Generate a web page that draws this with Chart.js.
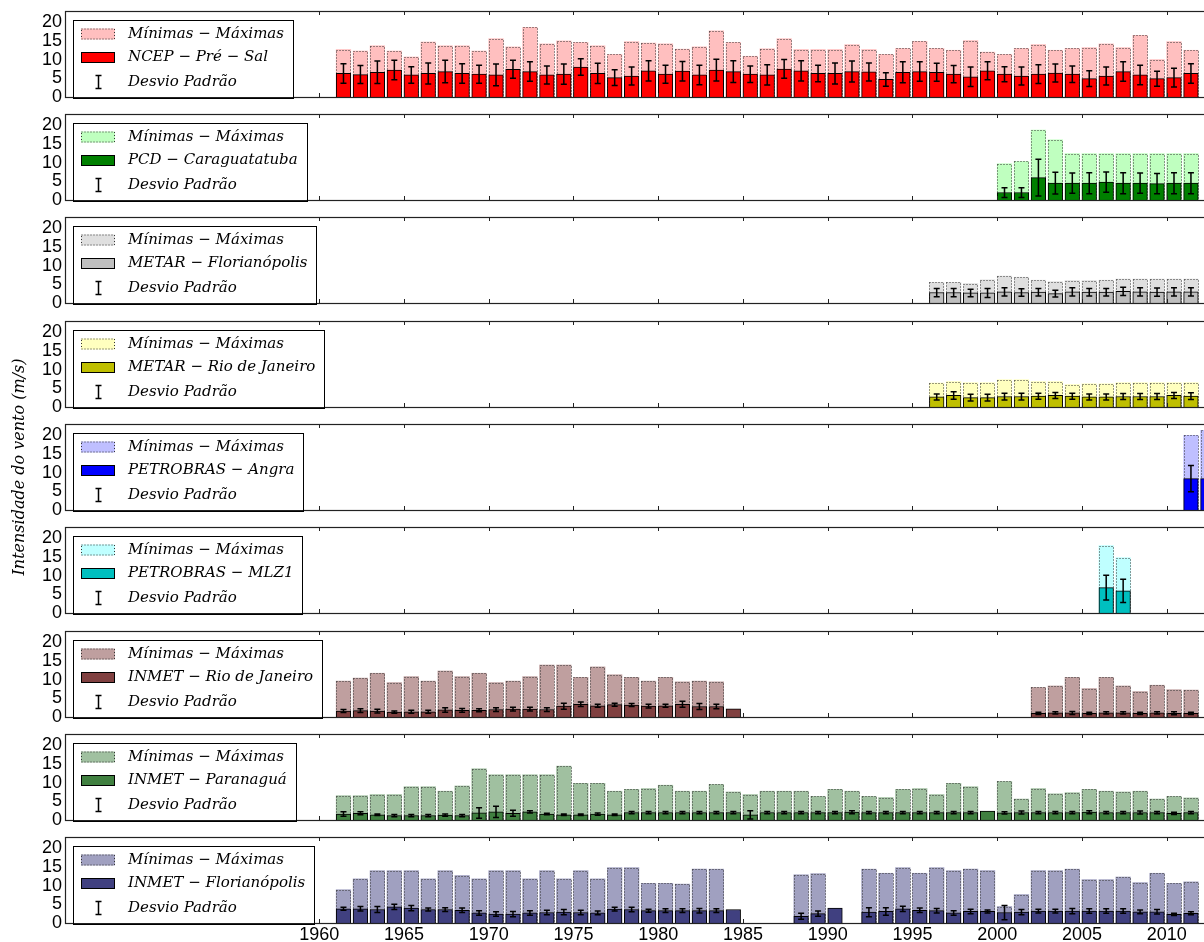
<!DOCTYPE html>
<html>
<head>
<meta charset="utf-8">
<script src="https://cdn.jsdelivr.net/npm/chart.js@4.4.0/dist/chart.umd.min.js"></script>
<style>
  body { margin: 0; background: #fff; overflow: hidden; width: 1204px; height: 942px; }
  canvas { position: absolute; left: 0; }
</style>
</head>
<body>
<script>
// ---------- dados ----------
const rotulosX = [1960, 1965, 1970, 1975, 1980, 1985, 1990, 1995, 2000, 2005, 2010]
const rotulosY = [0, 5, 10, 15, 20]
const tituloY = 'Intensidade do vento (m/s)'
const rotuloMinMax = 'Mínimas − Máximas'
const rotuloDesvio = 'Desvio Padrão'

// NCEP - Pré-Sal
const anosNcep = [1961, 1962, 1963, 1964, 1965, 1966, 1967, 1968, 1969, 1970,
  1971, 1972, 1973, 1974, 1975, 1976, 1977, 1978, 1979, 1980,
  1981, 1982, 1983, 1984, 1985, 1986, 1987, 1988, 1989, 1990,
  1991, 1992, 1993, 1994, 1995, 1996, 1997, 1998, 1999, 2000,
  2001, 2002, 2003, 2004, 2005, 2006, 2007, 2008, 2009, 2010, 2011]
const maxNcep = [12.7, 12.3, 13.7, 12.3, 10.7, 14.7, 13.7, 13.7, 12.3, 15.6,
  13.4, 18.6, 14.2, 15.0, 14.6, 13.7, 11.4, 14.8, 14.4, 14.2,
  12.8, 13.4, 17.7, 14.6, 10.9, 12.9, 15.6, 12.7, 12.7, 12.7,
  14.0, 12.7, 11.4, 13.0, 14.9, 13.0, 12.5, 15.1, 12.0, 11.4,
  13.0, 14.0, 12.5, 13.0, 13.2, 14.2, 13.2, 16.5, 10.0, 14.8, 12.5]
const mediaNcep = [6.3, 6.0, 6.6, 7.2, 5.9, 6.3, 6.8, 6.3, 6.1, 5.9,
  7.4, 6.8, 5.9, 6.1, 8.0, 6.3, 5.2, 5.6, 7.0, 6.1,
  6.9, 5.9, 7.2, 6.8, 6.1, 5.9, 7.5, 7.0, 6.3, 6.3,
  6.8, 6.7, 4.7, 6.6, 6.8, 6.6, 6.1, 5.4, 7.0, 6.1,
  5.6, 6.1, 6.4, 6.1, 4.9, 5.6, 6.8, 5.9, 4.9, 5.2, 6.3]
const desvioNcep = [2.6, 2.4, 3.0, 2.6, 2.2, 2.8, 3.0, 2.6, 2.4, 2.9,
  2.4, 2.6, 2.4, 2.7, 2.2, 2.7, 2.1, 2.4, 2.7, 2.4,
  2.6, 2.6, 2.9, 2.9, 2.2, 2.7, 2.5, 2.7, 2.2, 2.8,
  2.8, 2.4, 1.8, 2.8, 2.6, 2.4, 2.3, 2.6, 2.4, 2.0,
  2.4, 2.5, 2.4, 2.2, 2.1, 2.4, 2.6, 2.6, 2.0, 2.5, 2.6]

// PCD - Caraguatatuba
const anosPcd = [2000, 2001, 2002, 2003, 2004, 2005, 2006, 2007, 2008, 2009, 2010, 2011]
const maxPcd = [9.7, 10.3, 18.7, 16.1, 12.4, 12.4, 12.4, 12.4, 12.4, 12.4, 12.4, 12.4]
const mediaPcd = [2.0, 2.0, 6.0, 4.5, 4.5, 4.5, 4.8, 4.5, 4.5, 4.4, 4.5, 4.5]
const desvioPcd = [1.3, 1.3, 4.9, 2.9, 2.7, 2.8, 2.7, 2.8, 2.7, 2.7, 2.8, 2.8]

// METAR - Florianópolis
const anosMetarFln = [1996, 1997, 1998, 1999, 2000, 2001, 2002, 2003, 2004, 2005, 2006, 2007, 2008, 2009, 2010, 2011]
const maxMetarFln = [5.5, 5.5, 5.2, 6.2, 7.2, 6.9, 6.1, 5.7, 6.0, 6.0, 6.1, 6.4, 6.4, 6.4, 6.4, 6.4]
const mediaMetarFln = [2.8, 2.8, 2.7, 2.7, 3.0, 2.8, 2.9, 2.5, 3.0, 2.9, 2.9, 3.1, 3.0, 2.9, 3.0, 3.0]
const desvioMetarFln = [1.1, 1.1, 1.0, 1.2, 1.1, 1.0, 1.0, 0.9, 1.1, 1.0, 1.0, 1.1, 1.1, 1.1, 1.1, 1.1]

// METAR - Rio de Janeiro
const anosMetarRj = [1996, 1997, 1998, 1999, 2000, 2001, 2002, 2003, 2004, 2005, 2006, 2007, 2008, 2009, 2010, 2011]
const maxMetarRj = [6.4, 6.8, 6.5, 6.5, 7.3, 7.3, 6.8, 6.8, 6.0, 6.2, 6.2, 6.5, 6.5, 6.5, 6.5, 6.5]
const mediaMetarRj = [2.7, 3.1, 2.5, 2.5, 2.8, 2.8, 2.9, 3.1, 2.9, 2.7, 2.7, 2.8, 2.8, 2.8, 3.1, 2.9]
const desvioMetarRj = [0.8, 1.0, 0.9, 0.9, 0.9, 0.9, 0.8, 0.8, 0.8, 0.8, 0.8, 0.8, 0.8, 0.8, 0.8, 0.9]

// PETROBRAS - Angra
const anosAngra = [2011, 2012]
const maxAngra = [20.0, 21.3]
const mediaAngra = [8.4, 8.4]
const desvioAngra = [3.5, 3.5]

// PETROBRAS - MLZ1
const anosMlz = [2006, 2007]
const maxMlz = [18.0, 14.8]
const mediaMlz = [6.8, 5.9]
const desvioMlz = [3.3, 3.1]

// INMET - Rio de Janeiro
const anosInmetRj = [1961, 1962, 1963, 1964, 1965, 1966, 1967, 1968, 1969, 1970,
  1971, 1972, 1973, 1974, 1975, 1976, 1977, 1978, 1979, 1980,
  1981, 1982, 1983, 1984,
  2002, 2003, 2004, 2005, 2006, 2007, 2008, 2009, 2010, 2011]
const maxInmetRj = [9.6, 10.4, 11.7, 9.2, 10.8, 9.6, 12.3, 10.8, 11.7, 9.2,
  9.6, 10.8, 13.9, 13.9, 10.6, 13.4, 11.3, 10.6, 9.6, 10.6,
  9.4, 9.6, 9.4, null,
  7.9, 8.3, 10.6, 7.6, 10.6, 8.3, 6.8, 8.5, 7.3, 7.2]
const mediaInmetRj = [1.6, 1.7, 1.6, 1.3, 1.4, 1.4, 1.9, 1.8, 1.8, 2.0,
  2.1, 2.1, 2.0, 2.9, 3.4, 3.0, 3.3, 3.2, 2.9, 3.0,
  3.4, 2.8, 2.8, 2.2,
  1.0, 1.1, 1.1, 1.0, 1.1, 1.1, 1.0, 1.1, 1.0, 1.0]
const desvioInmetRj = [0.4, 0.5, 0.5, 0.3, 0.4, 0.4, 0.6, 0.5, 0.4, 0.5,
  0.5, 0.5, 0.5, 0.8, 0.6, 0.4, 0.4, 0.4, 0.5, 0.4,
  0.8, 0.8, 0.6, null,
  0.3, 0.3, 0.4, 0.3, 0.3, 0.3, 0.3, 0.3, 0.4, 0.3]

// INMET - Paranaguá
const anosInmetPgua = [1961, 1962, 1963, 1964, 1965, 1966, 1967, 1968, 1969, 1970,
  1971, 1972, 1973, 1974, 1975, 1976, 1977, 1978, 1979, 1980,
  1981, 1982, 1983, 1984, 1985, 1986, 1987, 1988, 1989, 1990,
  1991, 1992, 1993, 1994, 1995, 1996, 1997, 1998, 1999, 2000,
  2001, 2002, 2003, 2004, 2005, 2006, 2007, 2008, 2009, 2010, 2011]
const maxInmetPgua = [6.5, 6.5, 6.8, 6.8, 8.9, 8.9, 7.7, 9.1, 13.7, 12.1,
  12.1, 12.1, 12.1, 14.4, 9.8, 9.8, 7.7, 8.2, 8.4, 9.3,
  7.7, 7.7, 9.5, 7.5, 6.8, 7.7, 7.7, 7.7, 6.3, 8.2,
  7.7, 6.3, 6.0, 8.2, 8.4, 6.8, 9.8, 8.9, null, 10.3,
  5.6, 8.4, 7.0, 7.3, 8.2, 7.7, 7.5, 7.7, 5.6, 6.3, 5.9]
const mediaInmetPgua = [1.6, 1.8, 1.4, 1.2, 1.2, 1.2, 1.3, 1.2, 1.9, 2.2,
  1.8, 2.2, 1.6, 1.4, 1.4, 1.6, 1.4, 2.0, 2.0, 2.0,
  2.0, 2.0, 2.0, 2.0, 1.4, 2.0, 2.0, 2.0, 2.0, 2.0,
  2.1, 2.0, 2.0, 2.0, 2.0, 2.0, 2.0, 2.0, 2.4, 1.9,
  2.0, 2.0, 2.0, 2.0, 2.1, 2.0, 2.0, 2.0, 2.0, 1.8, 2.0]
const desvioInmetPgua = [0.6, 0.4, 0.2, 0.3, 0.3, 0.3, 0.3, 0.3, 1.4, 1.5,
  0.8, 0.3, 0.2, 0.2, 0.2, 0.3, 0.2, 0.3, 0.3, 0.3,
  0.3, 0.3, 0.3, 0.3, 1.1, 0.3, 0.3, 0.3, 0.3, 0.3,
  0.4, 0.3, 0.3, 0.3, 0.3, 0.3, 0.3, 0.3, null, 0.3,
  0.4, 0.3, 0.3, 0.3, 0.4, 0.3, 0.3, 0.4, 0.3, 0.3, 0.3]

// INMET - Florianópolis
const anosInmetFln = [1961, 1962, 1963, 1964, 1965, 1966, 1967, 1968, 1969, 1970,
  1971, 1972, 1973, 1974, 1975, 1976, 1977, 1978, 1979, 1980,
  1981, 1982, 1983, 1984, 1988, 1989, 1990,
  1992, 1993, 1994, 1995, 1996, 1997, 1998, 1999, 2000, 2001,
  2002, 2003, 2004, 2005, 2006, 2007, 2008, 2009, 2010, 2011]
const maxInmetFln = [8.9, 11.8, 14.0, 14.0, 14.0, 11.8, 14.0, 12.7, 11.8, 14.0,
  14.0, 11.8, 14.0, 11.8, 14.0, 11.8, 14.8, 14.8, 10.6, 10.6,
  10.4, 14.4, 14.4, null, 12.9, 13.2, null,
  14.4, 13.3, 14.8, 13.3, 14.8, 14.0, 14.4, 14.0, 4.4, 7.6,
  14.0, 14.0, 14.4, 11.6, 11.6, 12.3, 10.8, 13.3, 10.6, 11.0]
const mediaInmetFln = [3.8, 3.8, 3.6, 4.3, 4.0, 3.6, 3.6, 3.4, 2.7, 2.4,
  2.4, 2.7, 2.8, 2.9, 2.8, 2.7, 3.7, 3.6, 3.3, 3.3,
  3.3, 3.3, 3.3, 3.6, 1.8, 2.5, 4.0,
  2.9, 3.1, 3.8, 3.4, 3.3, 2.7, 3.1, 3.1, 2.8, 2.9,
  3.2, 3.2, 3.2, 3.2, 3.2, 3.2, 3.0, 3.0, 2.3, 2.6]
const desvioInmetFln = [0.4, 0.6, 0.8, 0.7, 0.7, 0.4, 0.5, 0.6, 0.6, 0.6,
  0.7, 0.6, 0.6, 0.7, 0.6, 0.5, 0.5, 0.6, 0.4, 0.5,
  0.5, 0.6, 0.5, null, 0.8, 0.7, null,
  1.2, 1.0, 0.7, 0.6, 0.6, 0.6, 0.6, 0.4, 1.9, 0.7,
  0.5, 0.5, 0.7, 0.6, 0.6, 0.6, 0.5, 0.6, 0.3, 0.4]

// ---------- estilo ----------
const coresEscuras = ['#ff0000', '#008000', '#bfbfbf', '#bfbf00', '#0000ff', '#00bfbf', '#804040', '#408040', '#404080']
const coresClaras = ['#ffbfbf', '#bfffbf', '#dfdfdf', '#ffffbf', '#bfbfff', '#bfffff', '#bf9f9f', '#a0c0a0', '#a0a0c0']

const estacoes = [
  { rotulo: 'NCEP − Pré − Sal', anos: anosNcep, max: maxNcep, media: mediaNcep, desvio: desvioNcep },
  { rotulo: 'PCD − Caraguatatuba', anos: anosPcd, max: maxPcd, media: mediaPcd, desvio: desvioPcd },
  { rotulo: 'METAR − Florianópolis', anos: anosMetarFln, max: maxMetarFln, media: mediaMetarFln, desvio: desvioMetarFln },
  { rotulo: 'METAR − Rio de Janeiro', anos: anosMetarRj, max: maxMetarRj, media: mediaMetarRj, desvio: desvioMetarRj },
  { rotulo: 'PETROBRAS − Angra', anos: anosAngra, max: maxAngra, media: mediaAngra, desvio: desvioAngra },
  { rotulo: 'PETROBRAS − MLZ1', anos: anosMlz, max: maxMlz, media: mediaMlz, desvio: desvioMlz },
  { rotulo: 'INMET − Rio de Janeiro', anos: anosInmetRj, max: maxInmetRj, media: mediaInmetRj, desvio: desvioInmetRj },
  { rotulo: 'INMET − Paranaguá', anos: anosInmetPgua, max: maxInmetPgua, media: mediaInmetPgua, desvio: desvioInmetPgua },
  { rotulo: 'INMET − Florianópolis', anos: anosInmetFln, max: maxInmetFln, media: mediaInmetFln, desvio: desvioInmetFln }
]

const xMin = 1945
const xMax = 2012.2
const eixoEsq = 65
const larguraAno = (1204 - eixoEsq) / (xMax - xMin)
const fracaoBarra = 0.86
const fonteTicks = { family: 'Liberation Sans', size: 18, lineHeight: 1 }
const fonteLegenda = 'italic 15px "DejaVu Serif"'

// ---------- plugins ----------
const contornoPontilhado = {
  id: 'contornoPontilhado',
  afterDatasetDraw(chart, args) {
    if (args.index !== 0) return
    const ctx = chart.ctx
    ctx.save()
    ctx.setLineDash([1, 2])
    ctx.strokeStyle = '#333'
    ctx.lineWidth = 1
    args.meta.data.forEach(barra => {
      const { x, y, base, width } = barra.getProps(['x', 'y', 'base', 'width'], true)
      ctx.strokeRect(Math.round(x - width / 2) + 0.5, Math.round(y) + 0.5, Math.round(width) - 1, Math.round(base - y))
    })
    ctx.restore()
  }
}

const barrasErro = {
  id: 'barrasErro',
  afterDatasetDraw(chart, args) {
    if (args.index !== 1) return
    const ds = chart.data.datasets[1]
    const y = chart.scales.y
    const area = chart.chartArea
    const ctx = chart.ctx
    ctx.save()
    ctx.beginPath()
    ctx.rect(area.left, area.top, area.right - area.left, area.bottom - area.top)
    ctx.clip()
    ctx.strokeStyle = '#000'
    ctx.lineWidth = 1.5
    args.meta.data.forEach((barra, i) => {
      const sd = ds.desvios[i]
      if (sd == null) return
      const m = ds.data[i].y
      const px = barra.x
      const y1 = y.getPixelForValue(m + sd)
      const y2 = y.getPixelForValue(m - sd)
      ctx.beginPath()
      ctx.moveTo(px, y1); ctx.lineTo(px, y2)
      ctx.moveTo(px - 3, y1); ctx.lineTo(px + 3, y1)
      ctx.moveTo(px - 3, y2); ctx.lineTo(px + 3, y2)
      ctx.stroke()
    })
    ctx.restore()
  }
}

const moldura = {
  id: 'moldura',
  afterDatasetsDraw(chart) {
    const { ctx, chartArea: a } = chart
    const x = chart.scales.x
    ctx.save()
    ctx.strokeStyle = '#222'
    ctx.lineWidth = 1.2
    ctx.strokeRect(a.left + 0.5, a.top + 0.5, a.right - a.left + 5, a.bottom - a.top)
    ctx.lineWidth = 1
    rotulosX.forEach(v => {
      const px = Math.round(x.getPixelForValue(v)) + 0.5
      ctx.beginPath()
      ctx.moveTo(px, a.top); ctx.lineTo(px, a.top + 4)
      ctx.moveTo(px, a.bottom); ctx.lineTo(px, a.bottom - 4)
      ctx.stroke()
    })
    ctx.restore()
  }
}

const legendaPainel = {
  id: 'legendaPainel',
  afterDraw(chart) {
    const { ctx, chartArea: a } = chart
    const [dsMax, dsMedia] = chart.data.datasets
    const textos = [dsMax.label, dsMedia.label, rotuloDesvio]
    ctx.save()
    ctx.font = fonteLegenda
    const largTexto = Math.max(...textos.map(t => ctx.measureText(t).width))
    const bx = a.left + 8, by = a.top + 8.5
    const bw = 55 + largTexto + 9, bh = a.bottom - by
    ctx.fillStyle = '#fff'
    ctx.fillRect(bx, by, bw, bh)
    ctx.strokeStyle = '#000'
    ctx.lineWidth = 1
    ctx.strokeRect(Math.round(bx) + 0.5, Math.round(by) + 0.5, Math.round(bw), Math.round(bh))
    const linhas = [by + 14.5, by + 38, by + 62.5]
    // amostra mínimas-máximas
    ctx.fillStyle = dsMax.backgroundColor
    ctx.fillRect(bx + 8, linhas[0] - 5.5, 34, 11)
    ctx.setLineDash([1, 2])
    ctx.strokeStyle = '#333'
    ctx.strokeRect(bx + 8.5, linhas[0] - 5, 33, 10)
    ctx.setLineDash([])
    // amostra média
    ctx.fillStyle = dsMedia.backgroundColor
    ctx.fillRect(bx + 8, linhas[1] - 5.5, 34, 11)
    ctx.strokeStyle = '#000'
    ctx.strokeRect(bx + 8.5, linhas[1] - 5, 33, 10)
    // símbolo desvio padrão
    const cx = Math.round(bx + 25) + 0.5
    ctx.lineWidth = 1.5
    ctx.beginPath()
    ctx.moveTo(cx, linhas[2] - 6.5); ctx.lineTo(cx, linhas[2] + 6.5)
    ctx.moveTo(cx - 3, linhas[2] - 6.5); ctx.lineTo(cx + 3, linhas[2] - 6.5)
    ctx.moveTo(cx - 3, linhas[2] + 6.5); ctx.lineTo(cx + 3, linhas[2] + 6.5)
    ctx.stroke()
    ctx.fillStyle = '#000'
    ctx.textBaseline = 'middle'
    textos.forEach((t, i) => ctx.fillText(t, bx + 55, linhas[i]))
    ctx.restore()
  }
}

// ---------- painéis ----------
const alturaArea = 86
const alturaEixoX = 24

estacoes.forEach((est, indice) => {
  const ultimo = indice === estacoes.length - 1
  const comTitulo = indice === 4
  const topoArea = Math.round(10.7 + 103.3 * indice)
  // o painel do meio leva o título do eixo y, que é mais alto que o painel
  const padTopo = comTitulo ? 160 : 15
  const padBase = ultimo ? 0 : padTopo
  const canvas = document.createElement('canvas')
  canvas.width = 1204
  canvas.height = padTopo + alturaArea + (ultimo ? alturaEixoX : padBase)
  canvas.style.top = (topoArea - padTopo) + 'px'
  document.body.appendChild(canvas)

  const dadosMax = []
  const dadosMedia = []
  est.anos.forEach((ano, i) => {
    const xc = ano + fracaoBarra / 2
    if (est.max[i] != null) dadosMax.push({ x: xc, y: [0, est.max[i]] })
    dadosMedia.push({ x: xc, y: est.media[i] })
  })

  new Chart(canvas, {
    type: 'bar',
    data: {
      datasets: [
        { label: rotuloMinMax, data: dadosMax, backgroundColor: coresClaras[indice], borderWidth: 0, order: 1 },
        { label: est.rotulo, data: dadosMedia, desvios: est.desvio, backgroundColor: coresEscuras[indice],
          borderColor: '#000', borderWidth: 1, order: 0 }
      ]
    },
    options: {
      responsive: false,
      animation: false,
      events: [],
      layout: { padding: { top: padTopo, bottom: padBase, left: 0, right: 0 } },
      datasets: { bar: { grouped: false, barThickness: larguraAno * fracaoBarra } },
      plugins: { legend: { display: false }, tooltip: { enabled: false } },
      scales: {
        x: {
          type: 'linear', min: xMin, max: xMax, offset: false, display: ultimo,
          grid: { display: false, drawTicks: false, offset: false }, border: { display: false },
          afterBuildTicks: s => { s.ticks = rotulosX.map(v => ({ value: v })) },
          afterFit: s => { if (ultimo) s.height = alturaEixoX },
          ticks: { font: fonteTicks, color: '#000', padding: 3, maxRotation: 0, autoSkip: false, callback: v => String(v) }
        },
        y: {
          min: 0, max: 23,
          grid: { display: false, drawTicks: false }, border: { display: false },
          afterBuildTicks: s => { s.ticks = rotulosY.map(v => ({ value: v })) },
          afterFit: s => { s.width = eixoEsq },
          ticks: { font: fonteTicks, color: '#000', padding: 3, autoSkip: false, callback: v => String(v) },
          title: {
            display: comTitulo, text: tituloY, color: '#000',
            font: { family: 'DejaVu Serif', style: 'italic', size: 16 },
            padding: { top: 10, bottom: 0 }
          }
        }
      }
    },
    plugins: [contornoPontilhado, barrasErro, moldura, legendaPainel]
  })
})
</script>
</body>
</html>
